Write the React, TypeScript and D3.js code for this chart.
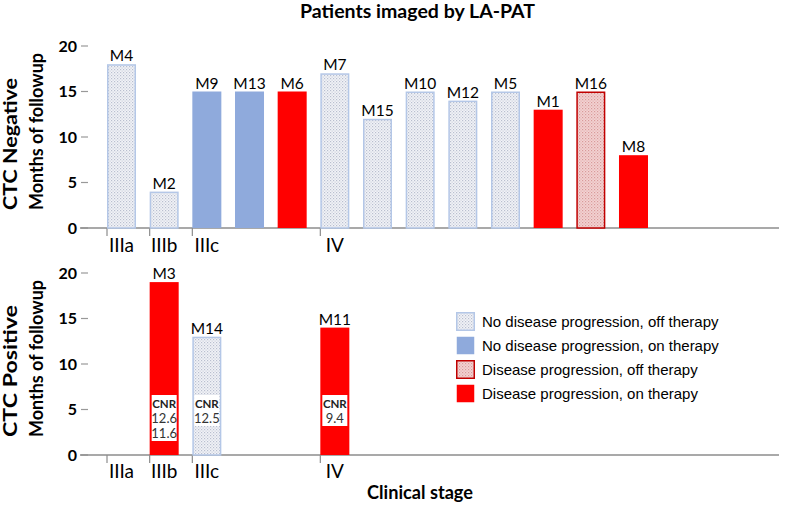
import React from "react";
import * as d3 from "d3";

const negLabels = ["M4", "M2", "M9", "M13", "M6", "M7", "M15", "M10", "M12", "M5", "M1", "M16", "M8"];
const negMonths = [18, 4, 15, 15, 15, 17, 12, 15, 14, 15, 13, 15, 8];
const negStatus = ["noOff", "noOff", "noOn", "noOn", "progOn", "noOff", "noOff", "noOff", "noOff", "noOff", "progOn", "progOff", "progOn"];

const posLabels = ["M3", "M14", "M11"];
const posSlots = [1, 2, 5];
const posMonths = [19, 13, 14];
const posStatus = ["progOn", "noOff", "progOn"];
const posCnr = [["12.6", "11.6"], ["12.5"], ["9.4"]];

const stages = ["IIIa", "IIIb", "IIIc", "IV"];
const stageSlots = [0, 1, 2, 5];
const yTicks = [0, 5, 10, 15, 20];

const legendKeys = ["noOff", "noOn", "progOff", "progOn"];
const legendLabels = [
  "No disease progression, off therapy",
  "No disease progression, on therapy",
  "Disease progression, off therapy",
  "Disease progression, on therapy",
];

const fillFor: Record<string, string> = {
  noOff: "url(#patNoOff)",
  noOn: "#8FAADC",
  progOff: "url(#patProgOff)",
  progOn: "#FF0000",
};
const strokeFor: Record<string, string> = {
  noOff: "#B4C7E7",
  noOn: "#8FAADC",
  progOff: "#C00000",
  progOn: "#FF0000",
};

const W = 785;
const H = 506;
const LBL = "Lato, 'Open Sans', sans-serif";

export default function App() {
  const x = d3
    .scaleBand<number>()
    .domain(d3.range(13))
    .range([107, 648])
    .paddingInner(0.32)
    .paddingOuter(0);
  const bw = x.bandwidth();
  const yTop = d3.scaleLinear().domain([0, 20]).range([228, 46]);
  const yBot = d3.scaleLinear().domain([0, 20]).range([455, 273]);

  const panel = (
    y: d3.ScaleLinear<number, number>,
    title: string,
    titleBase: number,
    labelBase: number
  ) => {
    const y0 = y(0);
    return (
      <g>
        {yTicks.map((t) => (
          <g key={t}>
            <line x1={81} x2={88} y1={y(t)} y2={y(t)} stroke="#999" strokeWidth={1.2} />
            <text
              x={77}
              y={y(t)}
              dy="0.35em"
              textAnchor="end"
              fontFamily={LBL}
              fontWeight={700}
              fontSize={16}
            >
              {t}
            </text>
          </g>
        ))}
        <line x1={80} x2={779} y1={y0} y2={y0} stroke="#8c8c8c" strokeWidth={1.5} />
        {stageSlots.map((s, i) => (
          <g key={i}>
            <line x1={x(s)!} x2={x(s)!} y1={y0} y2={y0 + 8} stroke="#8c8c8c" strokeWidth={1.2} />
            <text
              x={x(s)! + bw / 2}
              y={labelBase}
              textAnchor="middle"
              fontFamily={LBL}
              fontSize={19}
            >
              {stages[i]}
            </text>
          </g>
        ))}
        <g transform={`translate(0,${titleBase}) rotate(-90)`}>
          <text
            x={0}
            y={17}
            fontFamily={LBL}
            fontWeight={700}
            fontSize={18}
            textLength={132}
            lengthAdjust="spacingAndGlyphs"
          >
            {title}
          </text>
          <text
            x={0}
            y={43}
            fontFamily={LBL}
            fontWeight={700}
            fontSize={18}
            textLength={157}
            lengthAdjust="spacingAndGlyphs"
          >
            Months of followup
          </text>
        </g>
      </g>
    );
  };

  return (
    <svg width={W} height={H} style={{ position: "absolute", left: 0, top: 0 }}>
      <defs>
        <pattern id="patNoOff" width={3} height={3} patternUnits="userSpaceOnUse">
          <rect width={3} height={3} fill="#F2F3F7" />
          <rect width={1.2} height={1.2} fill="#B9BFCF" />
          <rect x={1.5} y={1.5} width={1.2} height={1.2} fill="#C9CEDB" />
        </pattern>
        <pattern id="patProgOff" width={3} height={3} patternUnits="userSpaceOnUse">
          <rect width={3} height={3} fill="#F3D3D3" />
          <rect width={1.2} height={1.2} fill="#D99A9A" />
          <rect x={1.5} y={1.5} width={1.2} height={1.2} fill="#E2AFAF" />
        </pattern>
      </defs>
      <rect width={W} height={H} fill="#fff" />

      <text
        x={417.5}
        y={18}
        textAnchor="middle"
        fontFamily={LBL}
        fontWeight={700}
        fontSize={19}
        textLength={235}
        lengthAdjust="spacingAndGlyphs"
      >
        Patients imaged by LA-PAT
      </text>

      {/* Top panel: CTC Negative */}
      {panel(yTop, "CTC Negative", 210, 252)}
      {negMonths.map((v, i) => {
        const st = negStatus[i];
        const outlined = st === "noOff" || st === "progOff";
        return (
          <g key={negLabels[i]}>
            <rect
              x={x(i)! + (outlined ? 0.75 : 0)}
              y={yTop(v) + (outlined ? 0.75 : 0)}
              width={bw - (outlined ? 1.5 : 0)}
              height={yTop(0) - yTop(v) - (outlined ? 0.75 : 0)}
              fill={fillFor[st]}
              stroke={outlined ? strokeFor[st] : "none"}
              strokeWidth={1.5}
            />
            <text
              x={x(i)! + bw / 2}
              y={yTop(v) - 3}
              textAnchor="middle"
              fontFamily={LBL}
              fontSize={15.5}
            >
              {negLabels[i]}
            </text>
          </g>
        );
      })}

      {/* Bottom panel: CTC Positive */}
      {panel(yBot, "CTC Positive", 437, 478)}
      {posMonths.map((v, i) => {
        const st = posStatus[i];
        const outlined = st === "noOff" || st === "progOff";
        const bx = x(posSlots[i])!;
        const lines = posCnr[i];
        const boxTop = 395;
        const boxH = 16 + lines.length * 15;
        return (
          <g key={posLabels[i]}>
            <rect
              x={bx + (outlined ? 0.75 : 0)}
              y={yBot(v) + (outlined ? 0.75 : 0)}
              width={bw - (outlined ? 1.5 : 0)}
              height={yBot(0) - yBot(v) - (outlined ? 0.75 : 0)}
              fill={fillFor[st]}
              stroke={outlined ? strokeFor[st] : "none"}
              strokeWidth={1.5}
            />
            <text
              x={bx + bw / 2}
              y={yBot(v) - 3}
              textAnchor="middle"
              fontFamily={LBL}
              fontSize={15.5}
            >
              {posLabels[i]}
            </text>
            <rect x={bx + 2} y={boxTop} width={bw - 4} height={boxH} fill="#fff" />
            <text
              x={bx + bw / 2}
              y={boxTop + 13}
              textAnchor="middle"
              fontFamily={LBL}
              fontWeight={700}
              fontSize={11.5}
              fill="#222"
            >
              CNR
            </text>
            {lines.map((l, j) => (
              <text
                key={j}
                x={bx + bw / 2}
                y={boxTop + 28 + j * 15}
                textAnchor="middle"
                fontFamily={LBL}
                fontSize={13}
                fill="#333"
              >
                {l}
              </text>
            ))}
          </g>
        );
      })}

      {/* Legend */}
      {legendKeys.map((k, i) => {
        const ry = [312, 336, 360, 384][i];
        const outlined = k === "noOff" || k === "progOff";
        return (
          <g key={k}>
            <rect
              x={456.75}
              y={ry + 0.75}
              width={17.5}
              height={17.5}
              fill={fillFor[k]}
              stroke={outlined ? strokeFor[k] : "none"}
              strokeWidth={1.5}
            />
            <text
              x={482}
              y={ry + 9.5}
              dy="0.35em"
              fontFamily="'Liberation Sans', Arial, sans-serif"
              fontSize={15}
            >
              {legendLabels[i]}
            </text>
          </g>
        );
      })}

      <text
        x={420}
        y={499}
        textAnchor="middle"
        fontFamily={LBL}
        fontWeight={700}
        fontSize={18}
        textLength={106}
        lengthAdjust="spacingAndGlyphs"
      >
        Clinical stage
      </text>
    </svg>
  );
}
